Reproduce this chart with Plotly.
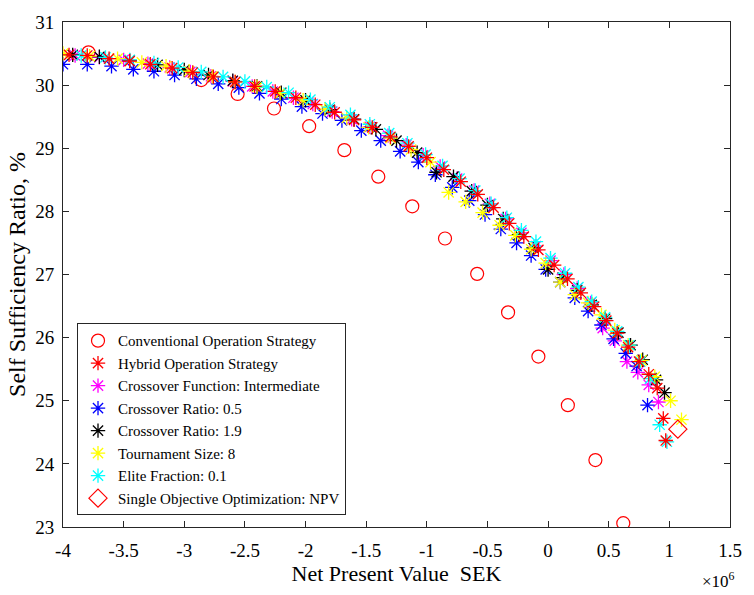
import plotly.graph_objects as go

# x values in units of 1e6 SEK, y in %
conv_x = [-3.79, -2.86, -2.56, -2.26, -1.97, -1.68, -1.40, -1.12, -0.85, -0.585, -0.33, -0.08, 0.163, 0.39, 0.62]
conv_y = [30.52, 30.08, 29.86, 29.63, 29.35, 28.97, 28.55, 28.08, 27.57, 27.01, 26.40, 25.70, 24.93, 24.06, 23.06]

hyb_x = [-3.95, -3.80, -3.62, -3.45, -3.28, -3.10, -2.93, -2.76, -2.58, -2.42, -2.25, -2.08, -1.92, -1.76, -1.60,
         -1.45, -1.30, -1.15, -1.00, -0.86, -0.72, -0.58, -0.45, -0.32, -0.20, -0.08, 0.05, 0.16, 0.27, 0.38,
         0.48, 0.57, 0.66, 0.75, 0.83, 0.90, 0.95, 0.97]
hyb_y = [30.48, 30.47, 30.42, 30.38, 30.33, 30.27, 30.20, 30.13, 30.05, 29.98, 29.90, 29.80, 29.69, 29.57, 29.45,
         29.33, 29.18, 29.03, 28.85, 28.66, 28.47, 28.27, 28.06, 27.81, 27.60, 27.39, 27.15, 26.93, 26.71, 26.49,
         26.27, 26.07, 25.85, 25.62, 25.42, 25.20, 24.72, 24.37]

mag_x = [-3.90, -3.70, -3.50, -3.30, -3.12, -2.95, -2.78, -2.60, -2.44, -2.27, -2.10, -1.94, -1.78, -1.62, -1.47,
         -1.32, -1.17, -1.03, -0.89, -0.75, -0.61, -0.48, -0.35, -0.22, -0.10, 0.02, 0.13, 0.24, 0.35, 0.45,
         0.55, 0.65, 0.74, 0.83, 0.91]
mag_y = [30.47, 30.44, 30.40, 30.34, 30.28, 30.21, 30.14, 30.06, 29.98, 29.90, 29.80, 29.70, 29.58, 29.46, 29.34,
         29.20, 29.05, 28.89, 28.71, 28.52, 28.33, 28.12, 27.88, 27.66, 27.45, 27.22, 27.00, 26.78, 26.55, 26.15,
         25.95, 25.62, 25.45, 25.25, 24.98]

blue_x = [-4.00, -3.80, -3.60, -3.42, -3.25, -3.08, -2.90, -2.72, -2.55, -2.38, -2.20, -2.03, -1.86, -1.70, -1.54,
          -1.38, -1.22, -1.07, -0.93, -0.79, -0.65, -0.52, -0.39, -0.26, -0.14, -0.02, 0.10, 0.22, 0.33, 0.44,
          0.54, 0.64, 0.73, 0.82]
blue_y = [30.33, 30.33, 30.30, 30.25, 30.22, 30.16, 30.10, 30.02, 29.96, 29.87, 29.78, 29.66, 29.55, 29.44, 29.28,
          29.12, 28.95, 28.78, 28.58, 28.38, 28.17, 27.95, 27.72, 27.50, 27.30, 27.08, 26.88, 26.63, 26.42, 26.20,
          25.98, 25.75, 25.55, 24.93]

blk_x = [-3.92, -3.70, -3.45, -3.22, -3.00, -2.80, -2.60, -2.40, -2.20, -2.00, -1.80, -1.60, -1.42, -1.25, -1.08,
         -0.92, -0.78, -0.63, -0.50, -0.37, -0.24, -0.12, 0.00, 0.12, 0.24, 0.36, 0.47, 0.58, 0.68, 0.78,
         0.89, 0.96]
blk_y = [30.48, 30.45, 30.39, 30.32, 30.24, 30.16, 30.07, 29.98, 29.88, 29.76, 29.61, 29.46, 29.30, 29.12, 28.93,
         28.62, 28.55, 28.32, 28.10, 27.88, 27.63, 27.42, 27.08, 26.95, 26.75, 26.52, 26.30, 26.08, 25.88, 25.65,
         25.33, 25.13]

yel_x = [-4.00, -3.78, -3.55, -3.35, -3.15, -2.96, -2.77, -2.58, -2.40, -2.21, -2.02, -1.84, -1.66, -1.48, -1.30,
         -1.13, -0.97, -0.82, -0.68, -0.54, -0.40, -0.27, -0.14, -0.02, 0.10, 0.22, 0.33, 0.44, 0.55, 0.66,
         0.77, 0.88, 1.01, 1.10]
yel_y = [30.50, 30.46, 30.42, 30.36, 30.30, 30.22, 30.14, 30.05, 29.97, 29.87, 29.76, 29.62, 29.48, 29.33, 29.16,
         28.98, 28.78, 28.30, 28.15, 27.98, 27.78, 27.62, 27.40, 27.18, 26.88, 26.68, 26.55, 26.36, 26.12, 25.88,
         25.64, 25.38, 25.00, 24.70]

cyan_x = [-3.85, -3.65, -3.45, -3.25, -3.05, -2.86, -2.68, -2.50, -2.32, -2.14, -1.96, -1.80, -1.63, -1.47, -1.31,
          -1.16, -1.01, -0.87, -0.73, -0.60, -0.47, -0.34, -0.22, -0.10, 0.02, 0.14, 0.25, 0.36, 0.47, 0.57,
          0.67, 0.76, 0.84, 0.92, 0.98]
cyan_y = [30.47, 30.44, 30.40, 30.35, 30.28, 30.21, 30.13, 30.06, 29.97, 29.88, 29.77, 29.65, 29.53, 29.38, 29.24,
          29.08, 28.90, 28.72, 28.52, 28.33, 28.12, 27.90, 27.70, 27.52, 27.26, 27.02, 26.80, 26.57, 26.32, 26.10,
          25.88, 25.62, 25.35, 24.62, 24.35]

npv_x = [1.07]
npv_y = [24.55]

x_ticks = [-4, -3.5, -3, -2.5, -2, -1.5, -1, -0.5, 0, 0.5, 1, 1.5]
x_tick_text = ["-4", "-3.5", "-3", "-2.5", "-2", "-1.5", "-1", "-0.5", "0", "0.5", "1", "1.5"]
y_ticks = [23, 24, 25, 26, 27, 28, 29, 30, 31]

FONT = "Liberation Serif, Times New Roman, serif"

fig = go.Figure()

def star(name, xs, ys, color, rank):
    return go.Scatter(x=xs, y=ys, mode="markers", name=name, legendrank=rank,
                      marker=dict(symbol="asterisk-open", size=12, color=color,
                                  line=dict(color=color, width=1.3)))

fig.add_trace(go.Scatter(x=conv_x, y=conv_y, mode="markers", name="Conventional Operation Strategy",
                         legendrank=1,
                         marker=dict(symbol="circle-open", size=13, color="#FF0000",
                                     line=dict(color="#FF0000", width=1.2))))
fig.add_trace(star("Crossover Function: Intermediate", mag_x, mag_y, "#FF00FF", 3))
fig.add_trace(star("Crossover Ratio: 0.5", blue_x, blue_y, "#0000FF", 4))
fig.add_trace(star("Crossover Ratio: 1.9", blk_x, blk_y, "#000000", 5))
fig.add_trace(star("Tournament Size: 8", yel_x, yel_y, "#FFFF00", 6))
fig.add_trace(star("Elite Fraction: 0.1", cyan_x, cyan_y, "#00FFFF", 7))
fig.add_trace(star("Hybrid Operation Strategy", hyb_x, hyb_y, "#FF0000", 2))
fig.add_trace(go.Scatter(x=npv_x, y=npv_y, mode="markers", name="Single Objective Optimization: NPV",
                         legendrank=8,
                         marker=dict(symbol="diamond-open", size=14, color="#FF0000",
                                     line=dict(color="#FF0000", width=1.2))))

axis_common = dict(showline=True, linecolor="#262626", linewidth=1, mirror="allticks",
                   ticks="inside", ticklen=6, tickcolor="#262626", showgrid=False, zeroline=False,
                   tickfont=dict(family=FONT, size=19, color="#000000"))

fig.update_layout(
    width=754, height=595,
    margin=dict(l=63, r=14, t=14, b=68),
    paper_bgcolor="white", plot_bgcolor="white",
    font=dict(family=FONT, color="#000000"),
    xaxis=dict(range=[-4, 1.5], tickvals=x_ticks, ticktext=x_tick_text, ticklabelstandoff=6,
               title=dict(text="Net Present Value\u00a0\u00a0SEK", font=dict(family=FONT, size=22), standoff=0),
               **axis_common),
    yaxis=dict(range=[23, 31], tickvals=y_ticks, ticklabelstandoff=4,
               title=dict(text="Self Sufficiency Ratio, %", font=dict(family=FONT, size=24), standoff=2),
               **axis_common),
    legend=dict(x=0.021, y=0.023, xanchor="left", yanchor="bottom",
                bgcolor="white", bordercolor="#262626", borderwidth=1,
                font=dict(family=FONT, size=15, color="#000000"),
                tracegroupgap=0, itemwidth=30),
    showlegend=True,
)

fig.add_annotation(text="×10<sup>6</sup>", xref="paper", yref="paper", x=1.0, y=0, xanchor="right",
                   yanchor="top", yshift=-40, xshift=7, showarrow=False,
                   font=dict(family=FONT, size=17, color="#000000"))

fig.write_html("out.html")
